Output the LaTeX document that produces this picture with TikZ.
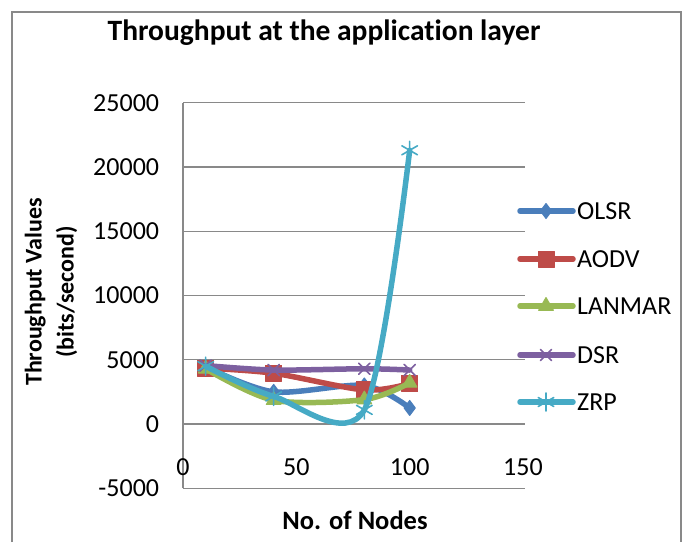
\documentclass[tikz,border=0pt]{standalone}
\usepackage{fontspec}
\setmainfont{Carlito}[Ligatures={NoCommon}]
\usetikzlibrary{plotmarks}

\definecolor{olsrblue}{HTML}{4A7EBB}
\definecolor{aodvred}{HTML}{BE4B48}
\definecolor{lanmargreen}{HTML}{98B954}
\definecolor{dsrpurple}{HTML}{7D60A0}
\definecolor{zrpaqua}{HTML}{46AAC5}
\definecolor{gridgray}{HTML}{898989}

\tikzset{
    series/.style={line width=5.5pt, line cap=round, line join=round},
    olsr/.style={series, draw=olsrblue, mark=diamond*, mark size=7.5pt,
        mark options={line width=1pt, fill=olsrblue}},
    aodv/.style={series, draw=aodvred, mark=square*, mark size=8pt,
        mark options={line width=1pt, fill=aodvred}},
    lanmar/.style={series, draw=lanmargreen, mark=triangle*, mark size=8.5pt,
        mark options={line width=1pt, fill=lanmargreen}},
    dsr/.style={series, draw=dsrpurple, mark=x, mark size=8pt,
        mark options={line width=1.6pt}},
    zrp/.style={series, draw=zrpaqua, mark=asterisk, mark size=9pt,
        mark options={line width=1.6pt}},
    ticklabel/.style={font=\fontsize{26}{30}\selectfont, inner sep=1pt},
    axtitle/.style={font=\fontsize{24}{32}\selectfont\bfseries, inner sep=0pt},
    legtext/.style={font=\fontsize{26}{30}\selectfont, anchor=west, inner sep=0pt},
    gridline/.style={gridgray, line width=1.3pt}
}

\begin{document}
\begin{tikzpicture}[x=1pt, y=-1pt]
    \useasboundingbox (0,0) rectangle (688,542);

    % Chart frame, cut off at the bottom
    \draw[gridgray, line width=2pt] (12,542) -- (12,12) -- (681,12) -- (681,542);

    % Title
    \node[font=\fontsize{29.5}{34}\selectfont\bfseries] (title) at (324,33)
        {Throughput at the application layer};

    % Plot area, in data units (x in nodes, y in 1000 bits/second)
    \begin{scope}[shift={(183,424)}, x=2.2667pt, y=12.85pt]
        % Grid and axis
        \foreach \v in {-5,0,...,25}
            \draw[gridline] (0,\v) -- (151,\v);
        \draw[gridline] (0,-5) -- (0,25);

        % Tick labels
        \foreach \v/\txt in {-5/-5000, 0/0, 5/5000, 10/10000, 15/15000, 20/20000, 25/25000}
            \node[ticklabel, anchor=east] (ylab\v) at (-10,\v) {\txt};
        \foreach \v in {0,50,100,150}
            \node[ticklabel] (xlab\v) at (\v,-3.35) {\v};

        % Series
        \draw[olsr] plot[smooth, tension=0.5] coordinates
            {(10,4.45) (40,2.5) (80,3.0) (100,1.25)};
        \draw[aodv] plot[smooth, tension=0.5] coordinates
            {(10,4.35) (40,3.95) (80,2.65) (100,3.15)};
        \draw[lanmar] plot[smooth, tension=0.5] coordinates
            {(10,4.3) (40,1.85) (80,1.9) (100,3.2)};
        \draw[dsr] plot[smooth, tension=0.5] coordinates
            {(10,4.55) (40,4.2) (80,4.3) (100,4.2)};
        \draw[zrp] plot[smooth, tension=0.5] coordinates
            {(10,4.5) (40,2.15) (80,1.1) (100,21.3)};
    \end{scope}

    % Axis titles
    \node[axtitle, font=\fontsize{26.5}{32}\selectfont\bfseries] (xtitle) at (355,520) {No. of Nodes};
    \node[axtitle, rotate=90, align=center] (ytitle) at (51,292)
        {Throughput Values\\(bits/second)};

    % Legend
    \foreach \sty/\name/\yy in {olsr/OLSR/211, aodv/AODV/259, lanmar/LANMAR/306,
                                 dsr/DSR/355, zrp/ZRP/402} {
        \draw[\sty, mark indices={2}] plot coordinates {(520,\yy) (546,\yy) (573,\yy)};
        \node[legtext] (leg\name) at (577,\yy) {\name};
    }
\end{tikzpicture}
\end{document}
